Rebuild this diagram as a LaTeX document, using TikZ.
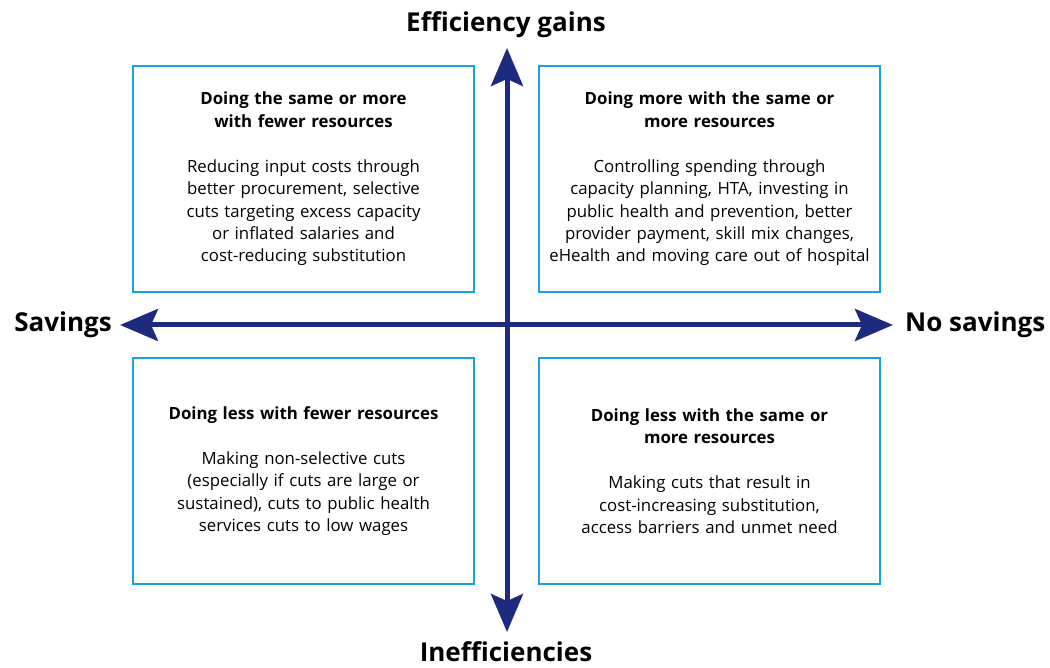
\documentclass[tikz,border=0pt]{standalone}
\usepackage{fontspec}
\setmainfont{Open Sans}
\usetikzlibrary{arrows.meta}
\definecolor{boxblue}{HTML}{1BA1E2}
\definecolor{axisblue}{HTML}{1D2A7E}
\begin{document}
\begin{tikzpicture}[x=1pt,y=-1pt,
	quad/.style={draw=boxblue,line width=2pt,minimum width=341pt,minimum height=226pt,text width=335pt,align=center,inner sep=0pt,font=\fontsize{16.8}{22.3}\selectfont},
	axis/.style={draw=axisblue,line width=5pt,{Stealth[length=38pt,width=32pt,inset=7pt]}-{Stealth[length=38pt,width=32pt,inset=7pt]}},
	lab/.style={font=\fontsize{26}{28}\selectfont\bfseries}]
		\useasboundingbox(0,0)rectangle(1050,668);
		\node[quad](tl)at(303.5,179){\textbf{Doing the same or more\\with fewer resources}\\[23pt]Reducing input costs through\\better procurement, selective\\cuts targeting excess capacity\\or inflated salaries and\\cost-reducing substitution};
		\node[quad](tr)at(709.5,179){\textbf{Doing more with the same or\\more resources}\\[23pt]Controlling spending through\\capacity planning, HTA, investing in\\public health and prevention, better\\provider payment, skill mix changes,\\eHealth and moving care out of hospital};
		\node[quad](bl)at(303.5,471){\textbf{Doing less with fewer resources}\\[23pt]Making non-selective cuts\\(especially if cuts are large or\\sustained), cuts to public health\\services cuts to low wages};
		\node[quad](br)at(709.5,471){\textbf{Doing less with the same or\\more resources}\\[23pt]Making cuts that result in\\cost-increasing substitution,\\access barriers and unmet need};
		\coordinate(gain)at(507,48);
		\coordinate(ineff)at(507,632);
		\coordinate(save)at(120,325);
		\coordinate(nosave)at(893,325);
		\draw[axis](ineff)--(gain);
		\draw[axis](save)--(nosave);
		\node[lab](gainlab)at(506,25){Efficiency gains};
		\node[lab,anchor=south,inner sep=0pt](inefflab)at(506,662){Inefficiencies};
		\node[lab,anchor=east,inner sep=0pt](savelab)at(112,325){Savings};
		\node[lab,anchor=west,inner sep=0pt](nosavelab)at(905,325){No savings};
	\end{tikzpicture}
\end{document}
